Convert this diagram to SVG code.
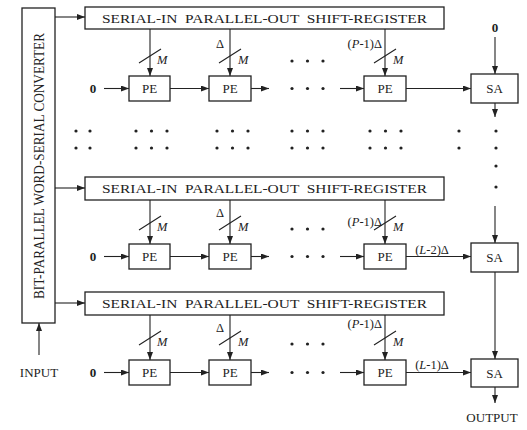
<svg xmlns="http://www.w3.org/2000/svg" width="527" height="430" viewBox="0 0 527 430">
<style>
.b{fill:#fff;stroke:#222;stroke-width:1.3}
.l{fill:none;stroke:#222;stroke-width:1.1}
.t{font-family:"Liberation Serif","Times New Roman",serif;fill:#222}
.sr{font-size:13.5px;white-space:pre}
.pe{font-size:13px;text-anchor:middle}
.m{font-size:12.5px;font-style:italic}
.d{font-size:12.5px}
.z{font-size:13px;font-weight:bold;text-anchor:middle}
</style>
<defs>
<marker id="ah" markerUnits="userSpaceOnUse" markerWidth="8" markerHeight="6" refX="8" refY="3" orient="auto"><path d="M0,0 L8,3 L0,6 z" fill="#222"/></marker>
<g id="dot3"><circle cx="0" cy="0" r="1.6" fill="#222"/><circle cx="15.5" cy="0" r="1.6" fill="#222"/><circle cx="31" cy="0" r="1.6" fill="#222"/></g>
</defs>

<g id="converter">
<rect class="b" x="22" y="8" width="33" height="315"/>
<text class="t" transform="translate(43.5,299) rotate(-90)" font-size="14" textLength="266" lengthAdjust="spacingAndGlyphs">BIT-PARALLEL WORD-SERIAL CONVERTER</text>
</g>

<g id="sr1"><rect class="b" x="85" y="7" width="359" height="22"/>
<text class="t sr" x="102" y="23" xml:space="preserve" textLength="325" lengthAdjust="spacingAndGlyphs">SERIAL-IN  PARALLEL-OUT  SHIFT-REGISTER</text></g>
<g id="sr2"><rect class="b" x="85" y="177" width="359" height="23"/>
<text class="t sr" x="102" y="193" xml:space="preserve" textLength="325" lengthAdjust="spacingAndGlyphs">SERIAL-IN  PARALLEL-OUT  SHIFT-REGISTER</text></g>
<g id="sr3"><rect class="b" x="85" y="292" width="359" height="23"/>
<text class="t sr" x="102" y="308" xml:space="preserve" textLength="325" lengthAdjust="spacingAndGlyphs">SERIAL-IN  PARALLEL-OUT  SHIFT-REGISTER</text></g>

<g id="pe11"><rect class="b" x="129" y="76" width="41" height="25"/><text class="t pe" x="149.5" y="93">PE</text></g>
<g id="pe12"><rect class="b" x="209" y="76" width="42" height="25"/><text class="t pe" x="230" y="93">PE</text></g>
<g id="pe13"><rect class="b" x="364" y="76" width="42" height="25"/><text class="t pe" x="385" y="93">PE</text></g>
<g id="sa1"><rect class="b" x="471" y="74" width="47" height="29"/><text class="t pe" x="494.5" y="93">SA</text></g>

<g id="pe21"><rect class="b" x="129" y="244" width="41" height="25"/><text class="t pe" x="149.5" y="261">PE</text></g>
<g id="pe22"><rect class="b" x="209" y="244" width="42" height="25"/><text class="t pe" x="230" y="261">PE</text></g>
<g id="pe23"><rect class="b" x="364" y="244" width="42" height="25"/><text class="t pe" x="385" y="261">PE</text></g>
<g id="sa2"><rect class="b" x="471" y="243" width="47" height="29"/><text class="t pe" x="494.5" y="262">SA</text></g>

<g id="pe31"><rect class="b" x="129" y="360" width="41" height="25"/><text class="t pe" x="149.5" y="377">PE</text></g>
<g id="pe32"><rect class="b" x="209" y="360" width="42" height="25"/><text class="t pe" x="230" y="377">PE</text></g>
<g id="pe33"><rect class="b" x="364" y="360" width="42" height="25"/><text class="t pe" x="385" y="377">PE</text></g>
<g id="sa3"><rect class="b" x="471" y="359" width="47" height="28"/><text class="t pe" x="494.5" y="378">SA</text></g>

<g id="labels">
<text class="t pe" x="39" y="377" font-size="12.5">INPUT</text>
<text class="t pe" x="492" y="422" font-size="12.5">OUTPUT</text>
<text class="t z" x="93" y="93">0</text>
<text class="t z" x="93" y="261">0</text>
<text class="t z" x="93" y="377">0</text>
<text class="t z" x="495" y="32">0</text>
<text class="t d" x="220" y="48" text-anchor="middle">Δ</text>
<text class="t d" x="220" y="217" text-anchor="middle">Δ</text>
<text class="t d" x="220" y="332" text-anchor="middle">Δ</text>
<text class="t d" x="382" y="48" text-anchor="end">(<tspan font-style="italic">P</tspan>-1)Δ</text>
<text class="t d" x="382" y="226" text-anchor="end">(<tspan font-style="italic">P</tspan>-1)Δ</text>
<text class="t d" x="382" y="328" text-anchor="end">(<tspan font-style="italic">P</tspan>-1)Δ</text>
<text class="t d" x="432" y="254" text-anchor="middle">(<tspan font-style="italic">L</tspan>-2)Δ</text>
<text class="t d" x="432" y="369" text-anchor="middle">(<tspan font-style="italic">L</tspan>-1)Δ</text>
<text class="t m" x="157" y="64">M</text>
<text class="t m" x="238" y="64">M</text>
<text class="t m" x="393" y="64">M</text>
<text class="t m" x="157" y="231">M</text>
<text class="t m" x="238" y="231">M</text>
<text class="t m" x="393" y="231">M</text>
<text class="t m" x="157" y="346">M</text>
<text class="t m" x="238" y="346">M</text>
<text class="t m" x="393" y="346">M</text>
</g>

<g id="dots">
<use href="#dot3" x="292" y="61"/>
<use href="#dot3" x="292" y="88.5"/>
<use href="#dot3" x="292" y="229"/>
<use href="#dot3" x="292" y="256.5"/>
<use href="#dot3" x="292" y="344"/>
<use href="#dot3" x="292" y="372.5"/>
<g fill="#222">
<circle cx="76" cy="131" r="1.6"/><circle cx="90" cy="131" r="1.6"/>
<circle cx="76" cy="148" r="1.6"/><circle cx="90" cy="148" r="1.6"/>
<circle cx="459" cy="131" r="1.6"/><circle cx="459" cy="148" r="1.6"/>
<circle cx="496" cy="131" r="1.6"/><circle cx="496" cy="148" r="1.6"/>
<circle cx="496" cy="166" r="1.6"/><circle cx="496" cy="187" r="1.6"/>
</g>
<use href="#dot3" x="136" y="131"/><use href="#dot3" x="136" y="148"/>
<use href="#dot3" x="217" y="131"/><use href="#dot3" x="217" y="148"/>
<use href="#dot3" x="292" y="131"/><use href="#dot3" x="292" y="148"/>
<use href="#dot3" x="370" y="131"/><use href="#dot3" x="370" y="148"/>
</g>

<g id="connectors" class="l">
<line x1="55" y1="17" x2="85" y2="17" marker-end="url(#ah)"/>
<line x1="55" y1="188" x2="85" y2="188" marker-end="url(#ah)"/>
<line x1="55" y1="303" x2="85" y2="303" marker-end="url(#ah)"/>
<line x1="39" y1="355" x2="39" y2="323" marker-end="url(#ah)"/>

<line x1="150" y1="29" x2="150" y2="76" marker-end="url(#ah)"/>
<line x1="230" y1="29" x2="230" y2="76" marker-end="url(#ah)"/>
<line x1="385" y1="29" x2="385" y2="76" marker-end="url(#ah)"/>
<line x1="150" y1="200" x2="150" y2="244" marker-end="url(#ah)"/>
<line x1="230" y1="200" x2="230" y2="244" marker-end="url(#ah)"/>
<line x1="385" y1="200" x2="385" y2="244" marker-end="url(#ah)"/>
<line x1="150" y1="315" x2="150" y2="360" marker-end="url(#ah)"/>
<line x1="230" y1="315" x2="230" y2="360" marker-end="url(#ah)"/>
<line x1="385" y1="315" x2="385" y2="360" marker-end="url(#ah)"/>

<path d="M139,63 L161,49 M219,63 L241,49 M374,63 L396,49 M139,230 L161,216 M219,230 L241,216 M374,230 L396,216 M139,345 L161,331 M219,345 L241,331 M374,345 L396,331"/>

<line x1="104" y1="88.5" x2="129" y2="88.5" marker-end="url(#ah)"/>
<line x1="170" y1="88.5" x2="209" y2="88.5" marker-end="url(#ah)"/>
<line x1="251" y1="88.5" x2="269" y2="88.5" marker-end="url(#ah)"/>
<line x1="340" y1="88.5" x2="364" y2="88.5" marker-end="url(#ah)"/>
<line x1="406" y1="88.5" x2="471" y2="88.5" marker-end="url(#ah)"/>

<line x1="104" y1="256.5" x2="129" y2="256.5" marker-end="url(#ah)"/>
<line x1="170" y1="256.5" x2="209" y2="256.5" marker-end="url(#ah)"/>
<line x1="251" y1="256.5" x2="269" y2="256.5" marker-end="url(#ah)"/>
<line x1="340" y1="256.5" x2="364" y2="256.5" marker-end="url(#ah)"/>
<line x1="406" y1="256.5" x2="471" y2="256.5" marker-end="url(#ah)"/>

<line x1="104" y1="372.5" x2="129" y2="372.5" marker-end="url(#ah)"/>
<line x1="170" y1="372.5" x2="209" y2="372.5" marker-end="url(#ah)"/>
<line x1="251" y1="372.5" x2="269" y2="372.5" marker-end="url(#ah)"/>
<line x1="340" y1="372.5" x2="364" y2="372.5" marker-end="url(#ah)"/>
<line x1="406" y1="372.5" x2="471" y2="372.5" marker-end="url(#ah)"/>

<line x1="495" y1="37" x2="495" y2="74" marker-end="url(#ah)"/>
<line x1="495" y1="103" x2="495" y2="117" marker-end="url(#ah)"/>
<line x1="495" y1="206" x2="495" y2="243" marker-end="url(#ah)"/>
<line x1="495" y1="272" x2="495" y2="359" marker-end="url(#ah)"/>
<line x1="495" y1="387" x2="495" y2="403" marker-end="url(#ah)"/>
</g>
</svg>
